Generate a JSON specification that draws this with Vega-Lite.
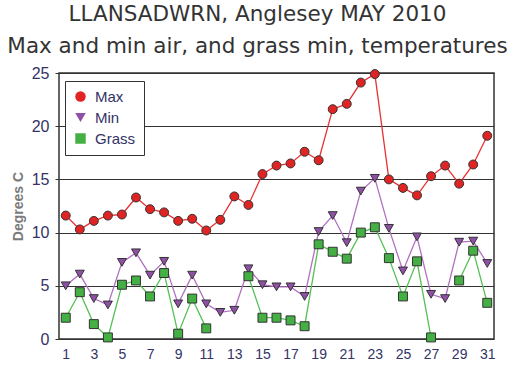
{
  "$schema": "https://vega.github.io/schema/vega-lite/v6.json",
  "width": 435,
  "height": 266,
  "autosize": "none",
  "padding": {"left": 59, "top": 73, "right": 22, "bottom": 37},
  "background": "white",
  "title": {
    "text": ["LLANSADWRN, Anglesey MAY 2010", "Max and min air, and grass min, temperatures"],
    "font": "DejaVu Sans",
    "fontSize": 21.5,
    "fontWeight": "normal",
    "color": "#333333",
    "lineHeight": 32,
    "anchor": "middle",
    "dx": -19,
    "offset": 8
  },
  "data": {
    "values": [
      {"day": 1, "Max": 11.6, "Min": 5.0, "Grass": 2.0},
      {"day": 2, "Max": 10.3, "Min": 6.1, "Grass": 4.4},
      {"day": 3, "Max": 11.1, "Min": 3.8, "Grass": 1.4},
      {"day": 4, "Max": 11.6, "Min": 3.2, "Grass": 0.15},
      {"day": 5, "Max": 11.7, "Min": 7.2, "Grass": 5.1},
      {"day": 6, "Max": 13.3, "Min": 8.1, "Grass": 5.5},
      {"day": 7, "Max": 12.2, "Min": 6.0, "Grass": 4.0},
      {"day": 8, "Max": 11.9, "Min": 7.3, "Grass": 6.2},
      {"day": 9, "Max": 11.1, "Min": 3.3, "Grass": 0.5},
      {"day": 10, "Max": 11.3, "Min": 6.0, "Grass": 3.8},
      {"day": 11, "Max": 10.2, "Min": 3.3, "Grass": 1.0},
      {"day": 12, "Max": 11.2, "Min": 2.5, "Grass": null},
      {"day": 13, "Max": 13.4, "Min": 2.7, "Grass": null},
      {"day": 14, "Max": 12.6, "Min": 6.6, "Grass": 5.9},
      {"day": 15, "Max": 15.5, "Min": 5.1, "Grass": 2.0},
      {"day": 16, "Max": 16.3, "Min": 4.9, "Grass": 2.0},
      {"day": 17, "Max": 16.5, "Min": 4.9, "Grass": 1.75},
      {"day": 18, "Max": 17.6, "Min": 4.0, "Grass": 1.2},
      {"day": 19, "Max": 16.8, "Min": 10.1, "Grass": 8.9},
      {"day": 20, "Max": 21.6, "Min": 11.6, "Grass": 8.2},
      {"day": 21, "Max": 22.1, "Min": 9.05, "Grass": 7.55},
      {"day": 22, "Max": 24.1, "Min": 13.9, "Grass": 10.0},
      {"day": 23, "Max": 24.9, "Min": 15.1, "Grass": 10.5},
      {"day": 24, "Max": 15.0, "Min": 10.4, "Grass": 7.6},
      {"day": 25, "Max": 14.2, "Min": 6.4, "Grass": 4.0},
      {"day": 26, "Max": 13.5, "Min": 9.6, "Grass": 7.3},
      {"day": 27, "Max": 15.3, "Min": 4.2, "Grass": 0.15},
      {"day": 28, "Max": 16.3, "Min": 3.8, "Grass": null},
      {"day": 29, "Max": 14.6, "Min": 9.1, "Grass": 5.5},
      {"day": 30, "Max": 16.4, "Min": 9.2, "Grass": 8.3},
      {"day": 31, "Max": 19.1, "Min": 7.1, "Grass": 3.4}
    ]
  },
  "encoding": {
    "x": {
      "field": "day",
      "type": "quantitative",
      "scale": {"domain": [0.52, 31.48], "nice": false, "zero": false},
      "axis": {
        "title": null,
        "values": [1, 3, 5, 7, 9, 11, 13, 15, 17, 19, 21, 23, 25, 27, 29, 31],
        "grid": false,
        "domain": false,
        "ticks": false,
        "labelFont": "Liberation Sans",
        "labelFontSize": 14,
        "labelColor": "#333366",
        "labelPadding": 8
      }
    },
    "y": {
      "field": "temp",
      "type": "quantitative",
      "scale": {"domain": [0, 25], "nice": false},
      "axis": {
        "title": "Degrees C",
        "titleFont": "Liberation Sans",
        "titleFontSize": 14,
        "titleFontWeight": "bold",
        "titleColor": "#7a7a7a",
        "titlePadding": 6,
        "values": [0, 5, 10, 15, 20, 25],
        "grid": true,
        "gridColor": "#333333",
        "gridOpacity": 1,
        "gridWidth": 1,
        "domain": false,
        "ticks": true,
        "tickSize": 4,
        "tickColor": "#333333",
        "labelFont": "Liberation Sans",
        "labelFontSize": 16,
        "labelColor": "#333366",
        "labelPadding": 6
      }
    }
  },
  "layer": [
    {
      "transform": [
        {"fold": ["Max", "Min", "Grass"], "as": ["lineSeries", "temp"]}
      ],
      "mark": {"type": "line", "strokeWidth": 1.3, "invalid": "break-paths-filter-domains"},
      "encoding": {
        "color": {
          "field": "lineSeries",
          "type": "nominal",
          "scale": {"domain": ["Grass", "Max", "Min"], "range": ["#55c055", "#e63232", "#b070c0"]},
          "legend": null
        }
      }
    },
    {
      "transform": [
        {"fold": ["Max", "Min", "Grass"], "as": ["series", "temp"]}
      ],
      "mark": {"type": "point", "filled": true, "size": 80, "stroke": "#333333", "strokeWidth": 1, "opacity": 1},
      "encoding": {
        "fill": {
          "field": "series",
          "type": "nominal",
          "scale": {"domain": ["Max", "Min", "Grass"], "range": ["#e02424", "#9050a8", "#44b044"]},
          "legend": {
            "title": null,
            "orient": "none",
            "legendX": 6,
            "legendY": 8,
            "fillColor": "white",
            "strokeColor": "#333333",
            "padding": 8,
            "labelFont": "Liberation Sans",
            "labelFontSize": 15,
            "labelColor": "#333366",
            "symbolSize": 110,
            "symbolOpacity": 1,
            "symbolStrokeColor": "#333333",
            "symbolStrokeWidth": 1,
            "rowPadding": 5,
            "labelOffset": 7
          }
        },
        "shape": {
          "field": "series",
          "type": "nominal",
          "scale": {"domain": ["Max", "Min", "Grass"], "range": ["circle", "triangle-down", "square"]},
          "legend": {
            "title": null,
            "orient": "none",
            "legendX": 6,
            "legendY": 8,
            "fillColor": "white",
            "strokeColor": "#333333",
            "padding": 8,
            "labelFont": "Liberation Sans",
            "labelFontSize": 15,
            "labelColor": "#333366",
            "symbolSize": 110,
            "symbolOpacity": 1,
            "symbolStrokeColor": "#333333",
            "symbolStrokeWidth": 1,
            "rowPadding": 5,
            "labelOffset": 7
          }
        }
      }
    }
  ],
  "config": {
    "view": {"stroke": "#333333", "strokeWidth": 1.5}
  }
}
